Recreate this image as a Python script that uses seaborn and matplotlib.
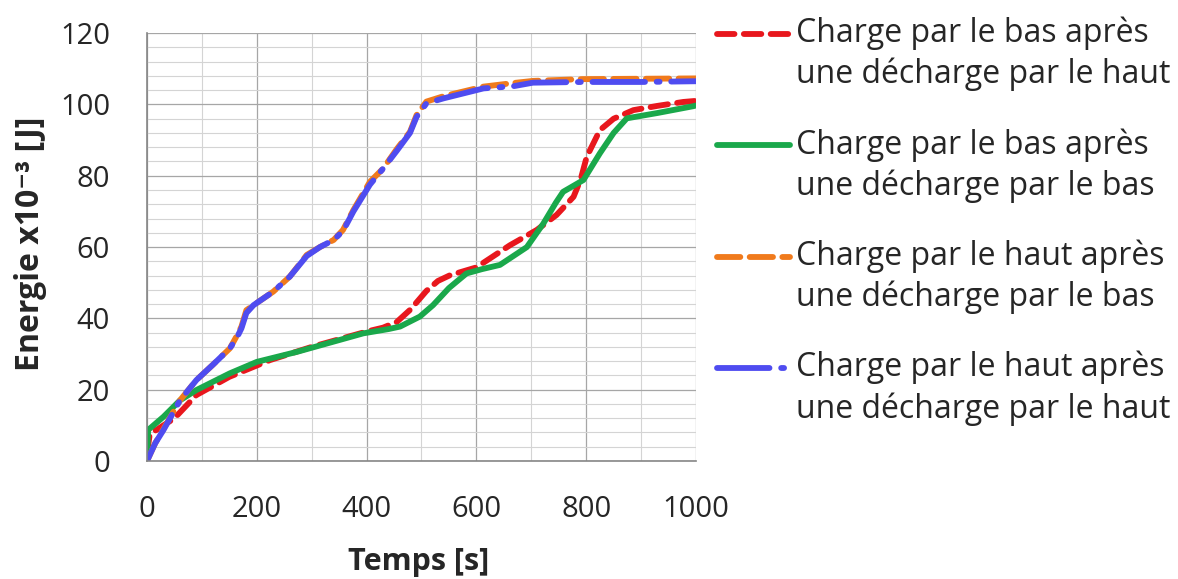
import numpy as np
import pandas as pd
import seaborn as sns
import matplotlib.pyplot as plt
from matplotlib.ticker import MultipleLocator
from matplotlib.legend_handler import HandlerLine2D

# Values (time in s, energy x1e-3 J)
t_bas_haut = [0, 5, 25, 50, 90, 150, 224, 300, 400, 430, 455, 480, 509, 530, 552, 600, 661, 710, 746, 777, 790, 801, 825, 850, 886, 930, 977, 1000]
e_bas_haut = [2, 7.5, 9.5, 12, 18.5, 23.6, 28.3, 32, 36.3, 37.4, 39, 42.5, 47.7, 50.5, 52.1, 54.3, 60.5, 64.8, 69, 74.1, 79, 85.3, 92.8, 96, 98.4, 99.6, 100.7, 101]

t_bas_bas = [0, 2, 30, 60, 90, 151, 200, 273, 394, 440, 461, 497, 521, 550, 582, 610, 643, 692, 722, 745, 758, 795, 825, 850, 874, 930, 995, 1000]
e_bas_bas = [0, 8.7, 12.4, 17, 19.9, 24.6, 27.8, 30.6, 35.8, 37, 37.7, 40.5, 43.7, 48.5, 52.6, 53.8, 55, 60, 66.6, 72.5, 75.5, 78.8, 86.3, 92, 96.1, 97.6, 99.5, 99.7]

t_haut_bas = [0, 15, 30, 60, 90, 120, 151, 165, 172, 181, 194, 230, 260, 291, 315, 340, 357, 376, 406, 430, 455, 479, 491, 509, 540, 613, 667, 703, 794, 900, 1000]
e_haut_bas = [0, 5, 9, 17, 22.7, 27, 31.6, 35.5, 37.7, 42.3, 43.7, 47.5, 51.7, 57.8, 60, 62, 64.8, 70.4, 78.3, 82, 87.5, 92.3, 97, 100.8, 102.3, 105, 106, 106.6, 107.1, 107.2, 107.3]

t_haut_haut = [0, 15, 30, 60, 90, 120, 151, 165, 172, 181, 194, 230, 260, 291, 315, 340, 357, 376, 406, 430, 455, 479, 491, 509, 540, 613, 667, 703, 794, 900, 1000]
e_haut_haut = [0, 5, 8.7, 17, 22.7, 27, 31.6, 35, 37.2, 41.5, 43.7, 47.5, 51.7, 57.5, 60, 62, 64.5, 70, 77.5, 82, 87, 92, 96.5, 100.3, 101.7, 104.5, 105.1, 106.1, 106.3, 106.3, 106.5]

labels = [
    "Charge par le bas après\nune décharge par le haut",
    "Charge par le bas après\nune décharge par le bas",
    "Charge par le haut après\nune décharge par le bas",
    "Charge par le haut après\nune décharge par le haut",
]


# puts the legend handle next to the first line of a two-line label
class FirstLineHandler(HandlerLine2D):
    def create_artists(self, legend, orig_handle, xdescent, ydescent,
                       width, height, fontsize, trans):
        return super().create_artists(legend, orig_handle, xdescent,
                                      ydescent - 1.35 * fontsize, width, height,
                                      fontsize, trans)


sns.set_style("white")
plt.rcParams["font.family"] = ["Open Sans", "DejaVu Sans"]

fig = plt.figure(figsize=(11.78, 5.79), dpi=100)
ax = fig.add_axes([0.1248, 0.2038, 0.466, 0.739])

series = [
    (t_bas_haut, e_bas_haut, "#e8171d", (3, 1.6)),
    (t_bas_bas, e_bas_bas, "#1aa84b", None),
    (t_haut_bas, e_haut_bas, "#f07a1c", (4, 1.6)),
    (t_haut_haut, e_haut_haut, "#4f4cf0", (9, 2, 0.5, 2)),
]
for (t, e, col, dash), lab in zip(series, labels):
    df = pd.DataFrame({"t": t, "e": e})
    sns.lineplot(data=df, x="t", y="e", ax=ax, color=col, lw=4.2, label=lab,
                 solid_capstyle="round", dash_capstyle="round")
    if dash is not None:
        ax.lines[-1].set_dashes(dash)

ax.set_xlim(0, 1000)
ax.set_ylim(0, 120)
ax.xaxis.set_major_locator(MultipleLocator(200))
ax.xaxis.set_minor_locator(MultipleLocator(100))
ax.yaxis.set_major_locator(MultipleLocator(20))
ax.yaxis.set_minor_locator(MultipleLocator(4))
ax.grid(which="major", color="#a6a6a6", lw=0.9)
ax.grid(which="minor", color="#d4d4d4", lw=0.8)
ax.set_axisbelow(True)
for s in ["top", "right"]:
    ax.spines[s].set_visible(False)
for s in ["left", "bottom"]:
    ax.spines[s].set_color("#868686")
    ax.spines[s].set_linewidth(1.2)
ax.tick_params(which="major", direction="out", length=8.5, width=1.2, color="#868686",
               labelsize=21)
ax.tick_params(axis="y", pad=18)
ax.tick_params(axis="x", pad=16)
ax.tick_params(which="minor", length=0)

ax.set_xlabel("Temps [s]", fontsize=22, fontweight="bold")
ax.set_ylabel("Energie x10⁻³ [J]", fontsize=23, fontweight="bold")
ax.xaxis.set_label_coords(0.494, -0.2)
ax.yaxis.set_label_coords(-0.182, 0.507)

ax.get_legend().remove()
h, l = ax.get_legend_handles_labels()
leg = fig.legend(h, l, loc="upper left", bbox_to_anchor=(717 / 1178, 0.971),
                 frameon=False, fontsize=23, handlelength=2.3, handletextpad=0.16,
                 labelspacing=1.15, borderpad=0, borderaxespad=0,
                 handler_map={ln: FirstLineHandler() for ln in h})
for txt in leg.get_texts():
    txt.set_linespacing(1.3)

fig.savefig("out.png", dpi=100)
